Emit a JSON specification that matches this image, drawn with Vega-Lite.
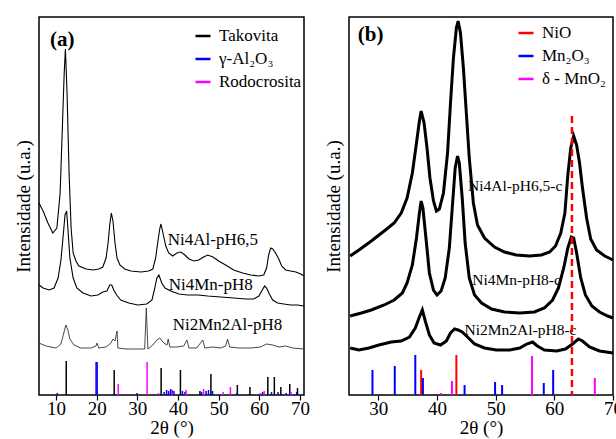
{
  "$schema": "https://vega.github.io/schema/vega-lite/v6.json",
  "padding": {"top": 14, "left": 13, "right": 0, "bottom": 0},
  "config": {
    "font": "Liberation Serif, Times New Roman, serif",
    "view": {"stroke": "black", "strokeWidth": 1.5},
    "axis": {"labelFont": "Liberation Serif, Times New Roman, serif", "titleFont": "Liberation Serif, Times New Roman, serif", "labelFontSize": 19, "titleFontSize": 19, "titleFontWeight": "normal", "labelColor": "black", "titleColor": "black", "grid": false, "domain": false, "tickColor": "black", "tickWidth": 1.2},
    "legend": {"labelFont": "Liberation Serif, Times New Roman, serif", "labelFontSize": 17, "labelColor": "black", "symbolStrokeWidth": 2.5, "symbolSize": 225, "rowPadding": 6, "labelOffset": 7, "padding": 0},
    "text": {"font": "Liberation Serif, Times New Roman, serif"}
  },
  "datasets": {
    "curvesA": [
      {"s":"A1","x":5.8,"v":192},{"s":"A1","x":6.8,"v":184},{"s":"A1","x":8.0,"v":172},{"s":"A1","x":9.2,"v":162},{"s":"A1","x":10.2,"v":167},{"s":"A1","x":11.0,"v":202},{"s":"A1","x":11.5,"v":262},{"s":"A1","x":12.0,"v":322},{"s":"A1","x":12.3,"v":346},{"s":"A1","x":12.7,"v":302},{"s":"A1","x":13.2,"v":222},{"s":"A1","x":13.7,"v":167},{"s":"A1","x":14.2,"v":142},{"s":"A1","x":14.9,"v":134},{"s":"A1","x":15.6,"v":129},{"s":"A1","x":17.4,"v":126},{"s":"A1","x":19.1,"v":125},{"s":"A1","x":20.5,"v":126},{"s":"A1","x":21.5,"v":128},{"s":"A1","x":22.3,"v":137},{"s":"A1","x":22.8,"v":152},{"s":"A1","x":23.2,"v":170},{"s":"A1","x":23.6,"v":182},{"s":"A1","x":24.0,"v":174},{"s":"A1","x":24.5,"v":152},{"s":"A1","x":25.0,"v":137},{"s":"A1","x":25.7,"v":130},{"s":"A1","x":26.9,"v":126},{"s":"A1","x":28.4,"v":124},{"s":"A1","x":30.9,"v":123},{"s":"A1","x":32.8,"v":124},{"s":"A1","x":33.8,"v":126},{"s":"A1","x":34.5,"v":137},{"s":"A1","x":35.0,"v":152},{"s":"A1","x":35.5,"v":166},{"s":"A1","x":35.8,"v":171},{"s":"A1","x":36.3,"v":162},{"s":"A1","x":37.0,"v":149},{"s":"A1","x":37.7,"v":142},{"s":"A1","x":38.7,"v":139},{"s":"A1","x":39.7,"v":142},{"s":"A1","x":40.7,"v":143},{"s":"A1","x":41.7,"v":140},{"s":"A1","x":42.7,"v":136},{"s":"A1","x":43.9,"v":134},{"s":"A1","x":45.1,"v":135},{"s":"A1","x":46.3,"v":138},{"s":"A1","x":47.3,"v":140},{"s":"A1","x":48.6,"v":138},{"s":"A1","x":50.0,"v":134},{"s":"A1","x":51.7,"v":130},{"s":"A1","x":53.7,"v":125},{"s":"A1","x":55.9,"v":122},{"s":"A1","x":57.9,"v":120},{"s":"A1","x":59.8,"v":119},{"s":"A1","x":61.1,"v":120},{"s":"A1","x":61.8,"v":127},{"s":"A1","x":62.3,"v":140},{"s":"A1","x":62.8,"v":147},{"s":"A1","x":63.3,"v":146},{"s":"A1","x":64.0,"v":142},{"s":"A1","x":64.8,"v":136},{"s":"A1","x":65.5,"v":129},{"s":"A1","x":66.5,"v":125},{"s":"A1","x":67.7,"v":124},{"s":"A1","x":69.0,"v":123},{"s":"A1","x":70.2,"v":121},{"s":"A1","x":71.0,"v":119},
      {"s":"A2","x":5.8,"v":110},{"s":"A2","x":6.8,"v":107},{"s":"A2","x":8.3,"v":105},{"s":"A2","x":9.5,"v":107},{"s":"A2","x":10.5,"v":117},{"s":"A2","x":11.2,"v":135},{"s":"A2","x":11.7,"v":157},{"s":"A2","x":12.2,"v":180},{"s":"A2","x":12.6,"v":184},{"s":"A2","x":12.9,"v":167},{"s":"A2","x":13.4,"v":137},{"s":"A2","x":14.2,"v":117},{"s":"A2","x":15.1,"v":107},{"s":"A2","x":16.6,"v":102},{"s":"A2","x":18.6,"v":99},{"s":"A2","x":20.3,"v":100},{"s":"A2","x":21.5,"v":103},{"s":"A2","x":22.5,"v":104},{"s":"A2","x":23.2,"v":110},{"s":"A2","x":23.7,"v":110},{"s":"A2","x":24.2,"v":105},{"s":"A2","x":24.9,"v":100},{"s":"A2","x":25.9,"v":95},{"s":"A2","x":27.9,"v":92},{"s":"A2","x":30.1,"v":90},{"s":"A2","x":32.3,"v":91},{"s":"A2","x":33.6,"v":95},{"s":"A2","x":34.3,"v":107},{"s":"A2","x":34.8,"v":117},{"s":"A2","x":35.3,"v":120},{"s":"A2","x":36.0,"v":112},{"s":"A2","x":36.8,"v":107},{"s":"A2","x":38.2,"v":104},{"s":"A2","x":40.2,"v":101},{"s":"A2","x":42.4,"v":100},{"s":"A2","x":44.9,"v":100},{"s":"A2","x":47.3,"v":99},{"s":"A2","x":50.5,"v":98},{"s":"A2","x":53.7,"v":97},{"s":"A2","x":56.7,"v":96},{"s":"A2","x":58.6,"v":96},{"s":"A2","x":59.9,"v":99},{"s":"A2","x":60.6,"v":104},{"s":"A2","x":61.3,"v":109},{"s":"A2","x":61.8,"v":107},{"s":"A2","x":62.6,"v":100},{"s":"A2","x":63.3,"v":95},{"s":"A2","x":64.5,"v":92},{"s":"A2","x":66.0,"v":91},{"s":"A2","x":67.7,"v":90},{"s":"A2","x":69.4,"v":90},{"s":"A2","x":71.0,"v":89},
      {"s":"A3","x":5.8,"v":52},{"s":"A3","x":7.5,"v":49},{"s":"A3","x":10.0,"v":47},{"s":"A3","x":11.2,"v":51},{"s":"A3","x":11.9,"v":62},{"s":"A3","x":12.4,"v":70},{"s":"A3","x":12.9,"v":65},{"s":"A3","x":13.4,"v":56},{"s":"A3","x":14.4,"v":50},{"s":"A3","x":16.1,"v":47},{"s":"A3","x":18.6,"v":47},{"s":"A3","x":19.8,"v":49},{"s":"A3","x":20.1,"v":52},{"s":"A3","x":20.5,"v":47},{"s":"A3","x":22.3,"v":48},{"s":"A3","x":23.5,"v":52},{"s":"A3","x":24.0,"v":56},{"s":"A3","x":24.5,"v":54},{"s":"A3","x":25.0,"v":64},{"s":"A3","x":25.2,"v":47},{"s":"A3","x":27.2,"v":46},{"s":"A3","x":29.6,"v":46},{"s":"A3","x":31.8,"v":46},{"s":"A3","x":32.2,"v":87},{"s":"A3","x":32.6,"v":46},{"s":"A3","x":33.8,"v":50},{"s":"A3","x":34.8,"v":55},{"s":"A3","x":35.5,"v":57},{"s":"A3","x":36.5,"v":52},{"s":"A3","x":37.3,"v":50},{"s":"A3","x":37.6,"v":56},{"s":"A3","x":38.0,"v":48},{"s":"A3","x":39.7,"v":48},{"s":"A3","x":41.4,"v":49},{"s":"A3","x":42.2,"v":55},{"s":"A3","x":42.7,"v":47},{"s":"A3","x":44.6,"v":47},{"s":"A3","x":46.1,"v":55},{"s":"A3","x":46.6,"v":47},{"s":"A3","x":48.6,"v":48},{"s":"A3","x":50.5,"v":47},{"s":"A3","x":51.7,"v":49},{"s":"A3","x":52.2,"v":56},{"s":"A3","x":52.7,"v":48},{"s":"A3","x":54.9,"v":47},{"s":"A3","x":57.9,"v":47},{"s":"A3","x":60.3,"v":48},{"s":"A3","x":61.8,"v":51},{"s":"A3","x":63.3,"v":50},{"s":"A3","x":64.8,"v":48},{"s":"A3","x":66.5,"v":49},{"s":"A3","x":68.2,"v":47},{"s":"A3","x":71.0,"v":46}
    ],
    "sticksA": [
      {"p":"Takovita","x":12.5,"h":34},{"p":"Takovita","x":24.3,"h":25},{"p":"Takovita","x":35.85,"h":27},{"p":"Takovita","x":40.6,"h":25},{"p":"Takovita","x":45.4,"h":4},{"p":"Takovita","x":48.1,"h":21},{"p":"Takovita","x":54.6,"h":10},{"p":"Takovita","x":57.7,"h":8},{"p":"Takovita","x":62.1,"h":18},{"p":"Takovita","x":63.7,"h":18},{"p":"Takovita","x":65.3,"h":8},{"p":"Takovita","x":67.5,"h":11},{"p":"Takovita","x":69.4,"h":7},
      {"p":"γ-Al₂O₃","x":10.3,"h":2},{"p":"γ-Al₂O₃","x":19.85,"h":33},{"p":"γ-Al₂O₃","x":20.1,"h":33},{"p":"γ-Al₂O₃","x":29.9,"h":2},{"p":"γ-Al₂O₃","x":36.6,"h":3},{"p":"γ-Al₂O₃","x":37.2,"h":5},{"p":"γ-Al₂O₃","x":37.7,"h":4},{"p":"γ-Al₂O₃","x":38.2,"h":6},{"p":"γ-Al₂O₃","x":38.6,"h":5},{"p":"γ-Al₂O₃","x":39.0,"h":4},{"p":"γ-Al₂O₃","x":41.1,"h":4},{"p":"γ-Al₂O₃","x":41.7,"h":3},{"p":"γ-Al₂O₃","x":45.8,"h":3},{"p":"γ-Al₂O₃","x":46.9,"h":4},{"p":"γ-Al₂O₃","x":47.5,"h":5},{"p":"γ-Al₂O₃","x":48.5,"h":4},{"p":"γ-Al₂O₃","x":54.5,"h":2},{"p":"γ-Al₂O₃","x":60.8,"h":3},{"p":"γ-Al₂O₃","x":63.0,"h":3},{"p":"γ-Al₂O₃","x":64.6,"h":3},{"p":"γ-Al₂O₃","x":66.6,"h":2},{"p":"γ-Al₂O₃","x":67.5,"h":3},{"p":"γ-Al₂O₃","x":69.2,"h":3},
      {"p":"Rodocrosita","x":25.3,"h":11},{"p":"Rodocrosita","x":32.4,"h":33},{"p":"Rodocrosita","x":35.2,"h":2},{"p":"Rodocrosita","x":38.5,"h":5},{"p":"Rodocrosita","x":42.0,"h":5},{"p":"Rodocrosita","x":46.3,"h":6},{"p":"Rodocrosita","x":51.1,"h":3},{"p":"Rodocrosita","x":52.9,"h":8},{"p":"Rodocrosita","x":60.2,"h":2},{"p":"Rodocrosita","x":61.2,"h":4},{"p":"Rodocrosita","x":67.8,"h":3}
    ],
    "labelsA": [
      {"x":37.5,"v":155,"t":"Ni4Al-pH6,5"},{"x":37.7,"v":110,"t":"Ni4Mn-pH8"},{"x":38.7,"v":70,"t":"Ni2Mn2Al-pH8"}
    ],
    "tagA": [{"x":8.5,"v":355,"t":"(a)"}],
    "curvesB": [
      {"s":"B1","x":25.2,"v":139},{"s":"B1","x":26.7,"v":145},{"s":"B1","x":28.8,"v":154},{"s":"B1","x":31.0,"v":164},{"s":"B1","x":32.7,"v":172},{"s":"B1","x":33.9,"v":182},{"s":"B1","x":34.9,"v":197},{"s":"B1","x":35.8,"v":222},{"s":"B1","x":36.5,"v":252},{"s":"B1","x":37.0,"v":274},{"s":"B1","x":37.3,"v":284},{"s":"B1","x":37.8,"v":272},{"s":"B1","x":38.3,"v":247},{"s":"B1","x":38.8,"v":217},{"s":"B1","x":39.4,"v":194},{"s":"B1","x":39.9,"v":184},{"s":"B1","x":40.4,"v":186},{"s":"B1","x":41.1,"v":202},{"s":"B1","x":41.8,"v":242},{"s":"B1","x":42.3,"v":292},{"s":"B1","x":42.8,"v":337},{"s":"B1","x":43.3,"v":367},{"s":"B1","x":43.6,"v":374},{"s":"B1","x":44.0,"v":362},{"s":"B1","x":44.5,"v":327},{"s":"B1","x":45.0,"v":282},{"s":"B1","x":45.5,"v":237},{"s":"B1","x":46.2,"v":192},{"s":"B1","x":46.9,"v":170},{"s":"B1","x":48.1,"v":157},{"s":"B1","x":49.8,"v":148},{"s":"B1","x":51.5,"v":143},{"s":"B1","x":53.5,"v":140},{"s":"B1","x":55.8,"v":139},{"s":"B1","x":57.8,"v":140},{"s":"B1","x":59.2,"v":143},{"s":"B1","x":60.2,"v":149},{"s":"B1","x":61.1,"v":162},{"s":"B1","x":61.8,"v":182},{"s":"B1","x":62.3,"v":220},{"s":"B1","x":62.8,"v":247},{"s":"B1","x":63.3,"v":259},{"s":"B1","x":63.8,"v":250},{"s":"B1","x":64.3,"v":232},{"s":"B1","x":64.8,"v":207},{"s":"B1","x":65.5,"v":177},{"s":"B1","x":66.2,"v":156},{"s":"B1","x":67.2,"v":145},{"s":"B1","x":68.6,"v":139},{"s":"B1","x":70.0,"v":135},
      {"s":"B2","x":25.2,"v":79},{"s":"B2","x":27.1,"v":82},{"s":"B2","x":28.8,"v":85},{"s":"B2","x":31.0,"v":90},{"s":"B2","x":32.7,"v":95},{"s":"B2","x":34.1,"v":102},{"s":"B2","x":34.9,"v":112},{"s":"B2","x":35.8,"v":130},{"s":"B2","x":36.5,"v":157},{"s":"B2","x":37.0,"v":182},{"s":"B2","x":37.3,"v":194},{"s":"B2","x":37.6,"v":187},{"s":"B2","x":38.2,"v":152},{"s":"B2","x":38.7,"v":122},{"s":"B2","x":39.4,"v":105},{"s":"B2","x":40.0,"v":100},{"s":"B2","x":40.7,"v":104},{"s":"B2","x":41.4,"v":117},{"s":"B2","x":42.1,"v":147},{"s":"B2","x":42.6,"v":187},{"s":"B2","x":43.1,"v":227},{"s":"B2","x":43.5,"v":239},{"s":"B2","x":43.8,"v":232},{"s":"B2","x":44.3,"v":197},{"s":"B2","x":44.8,"v":152},{"s":"B2","x":45.5,"v":117},{"s":"B2","x":46.4,"v":100},{"s":"B2","x":47.6,"v":92},{"s":"B2","x":49.3,"v":86},{"s":"B2","x":51.5,"v":83},{"s":"B2","x":54.1,"v":82},{"s":"B2","x":56.6,"v":83},{"s":"B2","x":58.3,"v":87},{"s":"B2","x":59.7,"v":95},{"s":"B2","x":60.7,"v":107},{"s":"B2","x":61.6,"v":127},{"s":"B2","x":62.3,"v":147},{"s":"B2","x":62.9,"v":158},{"s":"B2","x":63.3,"v":157},{"s":"B2","x":63.8,"v":142},{"s":"B2","x":64.5,"v":117},{"s":"B2","x":65.3,"v":100},{"s":"B2","x":66.4,"v":89},{"s":"B2","x":67.7,"v":83},{"s":"B2","x":69.1,"v":79},{"s":"B2","x":70.0,"v":77},
      {"s":"B3","x":25.2,"v":47},{"s":"B3","x":26.7,"v":45},{"s":"B3","x":28.4,"v":47},{"s":"B3","x":30.1,"v":50},{"s":"B3","x":32.2,"v":53},{"s":"B3","x":33.9,"v":54},{"s":"B3","x":35.3,"v":58},{"s":"B3","x":36.3,"v":67},{"s":"B3","x":37.0,"v":78},{"s":"B3","x":37.5,"v":85},{"s":"B3","x":38.0,"v":74},{"s":"B3","x":38.7,"v":60},{"s":"B3","x":39.5,"v":52},{"s":"B3","x":40.6,"v":50},{"s":"B3","x":41.6,"v":54},{"s":"B3","x":42.3,"v":62},{"s":"B3","x":43.0,"v":66},{"s":"B3","x":43.6,"v":65},{"s":"B3","x":44.3,"v":63},{"s":"B3","x":45.2,"v":58},{"s":"B3","x":46.4,"v":51},{"s":"B3","x":48.1,"v":47},{"s":"B3","x":50.1,"v":45},{"s":"B3","x":52.4,"v":45},{"s":"B3","x":54.1,"v":47},{"s":"B3","x":55.3,"v":51},{"s":"B3","x":56.3,"v":53},{"s":"B3","x":57.1,"v":49},{"s":"B3","x":58.3,"v":45},{"s":"B3","x":60.4,"v":44},{"s":"B3","x":61.9,"v":46},{"s":"B3","x":63.1,"v":51},{"s":"B3","x":64.1,"v":56},{"s":"B3","x":64.8,"v":54},{"s":"B3","x":66.0,"v":48},{"s":"B3","x":67.7,"v":44},{"s":"B3","x":70.0,"v":42}
    ],
    "sticksB": [
      {"p":"NiO","x":37.3,"h":25},{"p":"NiO","x":43.3,"h":40},
      {"p":"Mn₂O₃","x":29.0,"h":25},{"p":"Mn₂O₃","x":32.8,"h":29},{"p":"Mn₂O₃","x":36.3,"h":40},{"p":"Mn₂O₃","x":37.6,"h":17},{"p":"Mn₂O₃","x":44.7,"h":10},{"p":"Mn₂O₃","x":49.9,"h":13},{"p":"Mn₂O₃","x":51.1,"h":10},{"p":"Mn₂O₃","x":58.2,"h":12},{"p":"Mn₂O₃","x":59.8,"h":25},
      {"p":"δ - MnO₂","x":40.7,"h":2},{"p":"δ - MnO₂","x":42.55,"h":14},{"p":"δ - MnO₂","x":56.2,"h":39},{"p":"δ - MnO₂","x":66.9,"h":17}
    ],
    "dashB": [{"x":63.0,"h":279}],
    "labelsB": [
      {"x":45.3,"v":209,"t":"Ni4Al-pH6,5-c"},{"x":46.0,"v":115,"t":"Ni4Mn-pH8-c"},{"x":44.7,"v":65,"t":"Ni2Mn2Al-pH8-c"}
    ],
    "tagB": [{"x":26.5,"v":360,"t":"(b)"}]
  },
  "resolve": {"scale": {"color": "independent", "x": "independent", "y": "independent"}, "legend": {"color": "independent"}},
  "spacing": 12,
  "hconcat": [
    {
      "width": 265, "height": 378,
      "layer": [
        {
          "data": {"name": "curvesA"},
          "transform": [{"filter": "datum.s !== 'A3'"}],
          "mark": {"type": "line", "color": "black", "strokeWidth": 1.1},
          "encoding": {
            "x": {"field": "x", "type": "quantitative", "scale": {"domain": [5.8, 71], "nice": false, "zero": false},
              "axis": {"title": "2θ (°)", "values": [10,15,20,25,30,35,40,45,50,55,60,65,70], "labelExpr": "datum.value % 10 === 0 ? datum.label : ''", "tickSize": {"condition": {"test": "datum.value % 10 === 0", "value": 5}, "value": 3}, "labelFlush": false, "labelOverlap": false, "labelBound": false, "labelPadding": -1, "titlePadding": 0}},
            "y": {"field": "v", "type": "quantitative", "scale": {"domain": [0, 378], "nice": false, "zero": false},
              "axis": {"title": "Intensidade (u.a.)", "labels": false, "ticks": false, "titlePadding": 6}},
            "detail": {"field": "s"}
          }
        },
        {
          "data": {"name": "curvesA"},
          "transform": [{"filter": "datum.s === 'A3'"}],
          "mark": {"type": "line", "color": "#333333", "strokeWidth": 0.9},
          "encoding": {"x": {"field": "x", "type": "quantitative"}, "y": {"field": "v", "type": "quantitative"}}
        },
        {
          "data": {"name": "sticksA"},
          "mark": {"type": "rule", "strokeWidth": 1.5},
          "encoding": {
            "x": {"field": "x", "type": "quantitative"},
            "y": {"field": "h", "type": "quantitative"},
            "y2": {"datum": 0},
            "color": {"field": "p", "type": "nominal", "scale": {"domain": ["Takovita", "γ-Al₂O₃", "Rodocrosita"], "range": ["#000000", "#0000ff", "#ff00ff"]},
              "legend": {"title": null, "orient": "none", "legendX": 155, "legendY": 10, "symbolType": "stroke"}}
          }
        },
        {
          "data": {"name": "labelsA"},
          "mark": {"type": "text", "align": "left", "baseline": "middle", "fontSize": 17, "color": "black"},
          "encoding": {"x": {"field": "x", "type": "quantitative"}, "y": {"field": "v", "type": "quantitative"}, "text": {"field": "t"}}
        },
        {
          "data": {"name": "tagA"},
          "mark": {"type": "text", "align": "left", "baseline": "middle", "fontSize": 21, "fontWeight": "bold", "color": "black"},
          "encoding": {"x": {"field": "x", "type": "quantitative"}, "y": {"field": "v", "type": "quantitative"}, "text": {"field": "t"}}
        }
      ]
    },
    {
      "width": 264, "height": 378,
      "layer": [
        {
          "data": {"name": "curvesB"},
          "mark": {"type": "line", "color": "black", "strokeWidth": 3},
          "encoding": {
            "x": {"field": "x", "type": "quantitative", "scale": {"domain": [25, 70], "nice": false, "zero": false},
              "axis": {"title": "2θ (°)", "values": [30, 40, 50, 60, 70], "tickSize": 5, "labelFlush": false, "labelOverlap": false, "labelBound": false, "labelPadding": -1, "titlePadding": 0}},
            "y": {"field": "v", "type": "quantitative", "scale": {"domain": [0, 378], "nice": false, "zero": false},
              "axis": {"title": "Intensidade (u.a.)", "labels": false, "ticks": false, "titlePadding": 6}},
            "detail": {"field": "s"}
          }
        },
        {
          "data": {"name": "sticksB"},
          "mark": {"type": "rule", "strokeWidth": 2},
          "encoding": {
            "x": {"field": "x", "type": "quantitative"},
            "y": {"field": "h", "type": "quantitative"},
            "y2": {"datum": 0},
            "color": {"field": "p", "type": "nominal", "scale": {"domain": ["NiO", "Mn₂O₃", "δ - MnO₂"], "range": ["#ff0000", "#0000ff", "#ff00ff"]},
              "legend": {"title": null, "orient": "none", "legendX": 168, "legendY": 7, "symbolType": "stroke"}}
          }
        },
        {
          "data": {"name": "labelsB"},
          "mark": {"type": "text", "align": "left", "baseline": "middle", "fontSize": 15.5, "color": "black"},
          "encoding": {"x": {"field": "x", "type": "quantitative"}, "y": {"field": "v", "type": "quantitative"}, "text": {"field": "t"}}
        },
        {
          "data": {"name": "dashB"},
          "mark": {"type": "rule", "color": "#ff0000", "strokeWidth": 2.5, "strokeDash": [7, 4]},
          "encoding": {"x": {"field": "x", "type": "quantitative"}, "y": {"field": "h", "type": "quantitative"}, "y2": {"datum": 0}}
        },
        {
          "data": {"name": "tagB"},
          "mark": {"type": "text", "align": "left", "baseline": "middle", "fontSize": 21, "fontWeight": "bold", "color": "black"},
          "encoding": {"x": {"field": "x", "type": "quantitative"}, "y": {"field": "v", "type": "quantitative"}, "text": {"field": "t"}}
        }
      ]
    }
  ]
}
